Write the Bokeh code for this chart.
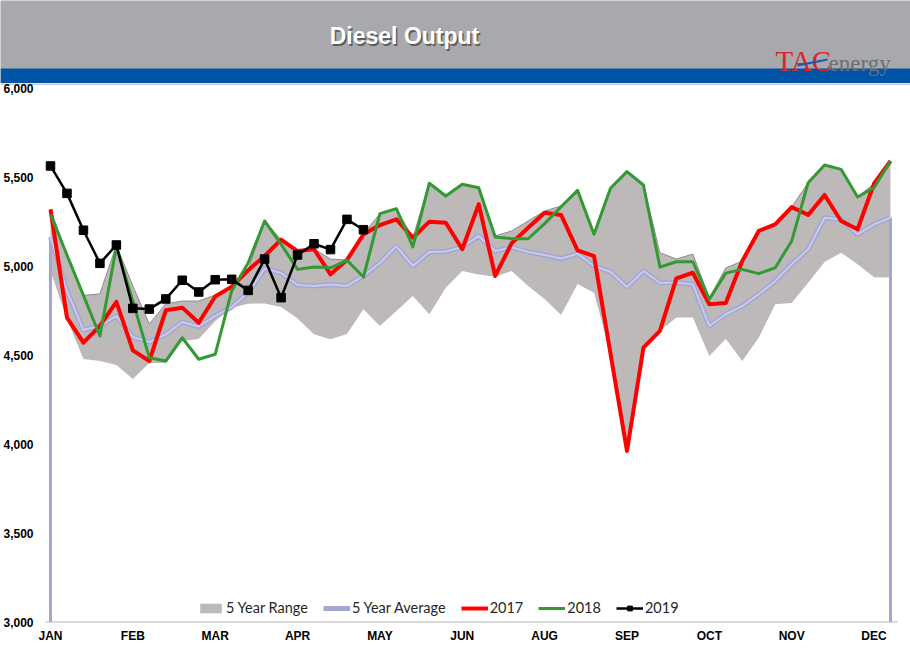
from bokeh.plotting import figure
from bokeh.models import (Range1d, FixedTicker, Legend, LegendItem, ColumnDataSource)
from bokeh.layouts import column
from bokeh.embed import file_html
from bokeh.resources import INLINE
from bokeh.core.properties import value

# ---------------- data ----------------
weeks = list(range(52))
month_ticks = [0, 5, 10, 15, 20, 25, 30, 35, 40, 45, 50]
month_labels = ["JAN", "FEB", "MAR", "APR", "MAY", "JUN", "AUG", "SEP", "OCT", "NOV", "DEC"]
y_ticks = [3000, 3500, 4000, 4500, 5000, 5500, 6000]

range_high = [5320, 5062, 4835, 4843, 5118, 4888, 4674, 4787, 4803, 4803, 4837, 4882, 4978,
              5253, 5148, 5084, 5096, 5039, 5034, 5180, 5294, 5322, 5159, 5465, 5393, 5459,
              5440, 5169, 5197, 5253, 5309, 5337, 5425, 5178, 5437, 5530, 5455, 5075, 5039,
              5067, 4820, 4989, 5028, 5197, 5234, 5331, 5468, 5567, 5543, 5388, 5462, 5590]
range_low = [4972, 4702, 4478, 4466, 4444, 4365, 4455, 4455, 4579, 4590, 4691, 4766, 4788,
             4790, 4770, 4705, 4616, 4588, 4618, 4757, 4663, 4747, 4831, 4729, 4878, 4972,
             4952, 4940, 4972, 4888, 4815, 4725, 4899, 4850, 4508, 3961, 4541, 4635, 4710,
             4710, 4494, 4590, 4466, 4597, 4785, 4792, 4906, 5022, 5075, 5010, 4937, 4935]
avg5 = [5163, 4860, 4640, 4663, 4719, 4601, 4573, 4616, 4685, 4660, 4719, 4770, 4850, 4986,
        4961, 4893, 4888, 4896, 4888, 4944, 5017, 5112, 5000, 5079, 5081, 5107, 5169, 5084,
        5105, 5079, 5062, 5042, 5069, 5000, 4968, 4882, 4972, 4906, 4906, 4897, 4663, 4729,
        4775, 4841, 4916, 5010, 5094, 5271, 5262, 5178, 5234, 5271]
y2017 = [5318, 4710, 4569, 4663, 4799, 4526, 4466, 4751, 4766, 4681, 4829, 4884, 4976, 5056,
         5148, 5084, 5094, 4953, 5034, 5178, 5230, 5262, 5159, 5249, 5243, 5094, 5347, 4944,
         5128, 5215, 5299, 5287, 5088, 5056, 4508, 3961, 4541, 4635, 4931, 4962, 4785, 4792,
         5028, 5197, 5234, 5331, 5287, 5399, 5253, 5206, 5462, 5590]
y2018 = [5290, 5062, 4835, 4607, 5107, 4803, 4485, 4466, 4597, 4476, 4504, 4860, 5017, 5253,
         5122, 4981, 4994, 4990, 5032, 4938, 5294, 5322, 5107, 5465, 5393, 5459, 5440, 5163,
         5153, 5153, 5238, 5333, 5425, 5178, 5437, 5530, 5455, 4994, 5024, 5024, 4813, 4960,
         4981, 4957, 4990, 5140, 5468, 5567, 5543, 5388, 5440, 5590]
y2019 = [5562, 5408, 5201, 5015, 5118, 4762, 4758, 4815, 4920, 4854, 4923, 4925, 4863, 5039,
         4822, 5062, 5125, 5092, 5262, 5204]

W = 910
HDR_H = 83
MAIN_H = 576
BORDER_B = 31
PX_PER_UNIT = 89.0 / 500.0          # vertical pixels per kbd
PX_PER_WEEK = 840.0 / 51.0          # horizontal pixels per week
X0_PX = 50.0                        # pixel position of week 0

frame_h = MAIN_H - BORDER_B
y_end = 6000 + 4.5 / PX_PER_UNIT
y_start = y_end - frame_h / PX_PER_UNIT
x_start = -X0_PX / PX_PER_WEEK
x_end = x_start + W / PX_PER_WEEK

# ---------------- header ----------------
hdr = figure(width=W, height=HDR_H, x_range=Range1d(0, W), y_range=Range1d(HDR_H, 0),
             toolbar_location=None, output_backend="svg", min_border=0,
             x_axis_location=None, y_axis_location=None, outline_line_color=None,
             background_fill_color="#A7A9AC", border_fill_color="#0054A6")
hdr.grid.visible = False
hdr.quad(left=[0], right=[W], top=[68], bottom=[HDR_H + 2], fill_color="#0054A6",
         line_color=None)
hdr.text(x=[405.5], y=[37], text=["Diesel Output"], text_font=value("Liberation Sans"),
         text_font_style="bold", text_font_size="23px", text_color="#4A4A4A", text_alpha=0.8,
         text_align="center", text_baseline="middle")
hdr.text(x=[404], y=[35.5], text=["Diesel Output"], text_font=value("Liberation Sans"),
         text_font_style="bold", text_font_size="23px", text_color="#FFFFFF",
         text_align="center", text_baseline="middle")
hdr.text(x=[775], y=[60], text=["TAC"], text_font=value("Liberation Serif"),
         text_font_size="29px", text_color="#D7262E", text_align="left",
         text_baseline="middle")
hdr.line(x=[797, 827], y=[65, 59], line_color="#2356A8", line_width=2)
hdr.text(x=[828], y=[63], text=["energy"], text_font=value("Liberation Serif"),
         text_font_size="23px", text_color="#6D6E71", text_align="left",
         text_baseline="middle")

# ---------------- main chart ----------------
p = figure(width=W, height=MAIN_H, x_range=Range1d(x_start, x_end),
           y_range=Range1d(y_start, y_end), y_axis_location=None,
           toolbar_location=None, output_backend="svg",
           min_border_left=0, min_border_right=0, min_border_top=0,
           min_border_bottom=BORDER_B,
           outline_line_color=None, background_fill_color="white", border_fill_color="white")
p.grid.visible = False

# light rim under the blue header band
p.quad(left=[x_start], right=[x_end], top=[y_end + 1 / PX_PER_UNIT],
       bottom=[y_end - 1.5 / PX_PER_UNIT], fill_color="#C3CAD8", line_color=None)

p.xaxis.ticker = FixedTicker(ticks=month_ticks)
p.xaxis.major_label_overrides = {t: lab for t, lab in zip(month_ticks, month_labels)}
p.xaxis.axis_line_color = None
p.xaxis.major_tick_line_color = None
p.xaxis.minor_tick_line_color = None
p.xaxis.major_tick_out = 0
p.xaxis.major_tick_in = 0
p.xaxis.major_label_standoff = 0
p.xaxis.major_label_text_font = "Liberation Sans"
p.xaxis.major_label_text_font_style = "bold"
p.xaxis.major_label_text_font_size = "12px"
p.xaxis.major_label_text_color = "#000000"

# y tick labels (drawn as text at the tick values)
p.text(x=[-17 / PX_PER_WEEK] * len(y_ticks), y=y_ticks, text=[f"{v:,}" for v in y_ticks],
       text_font=value("Liberation Sans"), text_font_style="bold", text_font_size="12px",
       text_color="#000000", text_align="right", text_baseline="middle")

# category axis line
p.segment(x0=[-5 / PX_PER_WEEK], y0=[y_ticks[0]], x1=[weeks[-1] + 7 / PX_PER_WEEK],
          y1=[y_ticks[0]], line_color="#D9D9D9", line_width=2)

src = ColumnDataSource(dict(week=weeks, hi=range_high, lo=range_low, avg=avg5,
                            y17=y2017, y18=y2018))
src19 = ColumnDataSource(dict(week=weeks[:len(y2019)], y19=y2019))

r_range = p.varea(x="week", y1="lo", y2="hi", source=src, fill_color="#BDB9B9")
p.line("week", "hi", source=src, line_color="#8F8B8B", line_width=1)

# vertical drops of the average series at both ends
p.segment(x0=[weeks[0], weeks[-1]], y0=[avg5[0], avg5[-1]],
          x1=[weeks[0], weeks[-1]], y1=[y_ticks[0], y_ticks[0]],
          line_color="#A3A6D3", line_width=3)

r_avg = p.line("week", "avg", source=src, line_color="#A3A6D3", line_width=5)
p.line("week", "avg", source=src, line_color="#C9CBEA", line_width=2)
r17 = p.line("week", "y17", source=src, line_color="#FF0000", line_width=4, line_join="round")
r18 = p.line("week", "y18", source=src, line_color="#339933", line_width=3, line_join="round")
r19l = p.line("week", "y19", source=src19, line_color="#000000", line_width=2.5)
r19m = p.scatter("week", "y19", source=src19, marker="square", size=8.5,
                 fill_color="#000000", line_color="#000000")

legend = Legend(items=[
    LegendItem(label="5 Year Range", renderers=[r_range]),
    LegendItem(label="5 Year Average", renderers=[r_avg]),
    LegendItem(label="2017", renderers=[r17]),
    LegendItem(label="2018", renderers=[r18]),
    LegendItem(label="2019", renderers=[r19l, r19m]),
], orientation="horizontal", location=(197, 12))
legend.background_fill_alpha = 0
legend.border_line_color = None
legend.padding = 3
legend.margin = 0
legend.spacing = 15
legend.glyph_width = 27
legend.glyph_height = 12
legend.label_height = 14
legend.label_standoff = 2
legend.label_text_font = "Lato"
legend.label_text_font_size = "14.5px"
legend.label_text_color = "#262626"
legend.label_text_baseline = "middle"
p.add_layout(legend)

layout = column(hdr, p, spacing=0)
open("out.html", "w").write(file_html(layout, INLINE))
